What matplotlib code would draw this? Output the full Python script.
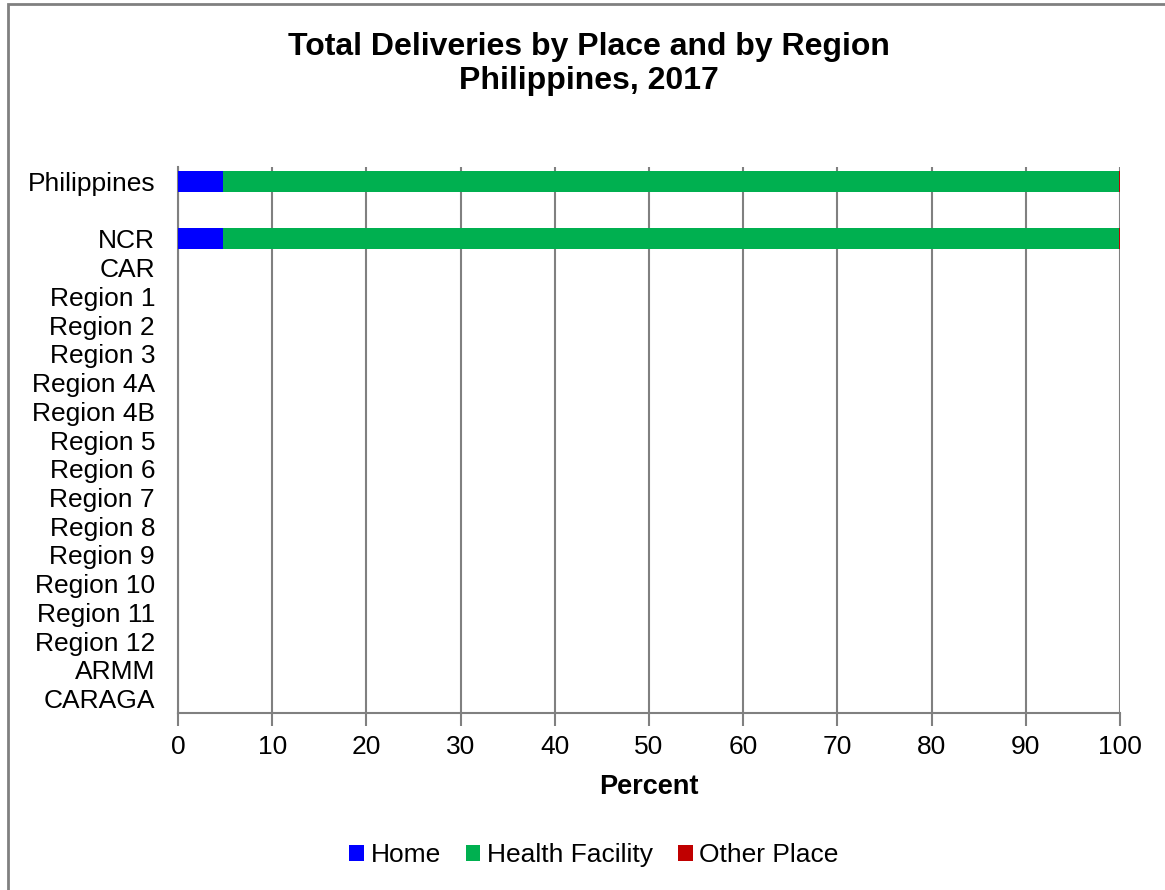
import matplotlib
matplotlib.use("Agg")
import matplotlib.pyplot as plt
from matplotlib.patches import Rectangle, Patch
import numpy as np

plt.rcParams['font.family'] = ['Liberation Sans', 'DejaVu Sans']

categories = ["Philippines", "", "NCR", "CAR", "Region 1", "Region 2", "Region 3",
              "Region 4A", "Region 4B", "Region 5", "Region 6", "Region 7", "Region 8",
              "Region 9", "Region 10", "Region 11", "Region 12", "ARMM", "CARAGA"]
home = [4.8, 0, 4.8] + [0] * 16
health = [95.1, 0, 95.1] + [0] * 16
other = [0.1, 0, 0.1] + [0] * 16
series_names = ["Home", "Health Facility", "Other Place"]
colors = ["#0000FF", "#00B050", "#C00000"]

fig = plt.figure(figsize=(11.65, 8.9), dpi=100)
ax = fig.add_axes([178/1165, 1-713/890, (1120-178)/1165, (713-167)/890])

y = np.arange(len(categories))
left = np.zeros(len(categories))
for vals, name, c in zip([home, health, other], series_names, colors):
    ax.barh(y, vals, left=left, height=0.72, color=c, label=name, zorder=3)
    left = left + np.array(vals)

ax.set_ylim(len(categories) - 0.5, -0.5)
ax.set_xlim(0, 100)
ax.set_xticks(np.arange(0, 101, 10))
ax.set_yticks(y)
ax.set_yticklabels(categories, fontsize=19)
ax.tick_params(axis='y', length=0, pad=16.5)
ax.tick_params(axis='x', labelsize=19, length=9, color='#808080', width=1.5, pad=7)
ax.grid(axis='x', color='#808080', linewidth=1.5, zorder=0)
for s in ['top', 'right']:
    ax.spines[s].set_visible(False)
ax.spines['left'].set_color('#808080')
ax.spines['left'].set_linewidth(1.5)
ax.spines['bottom'].set_color('#808080')
ax.spines['bottom'].set_linewidth(1.5)
ax.set_xlabel("Percent", fontsize=19.5, fontweight='bold', labelpad=11)

fig.text(589/1165, 1-64/890, "Total Deliveries by Place and by Region\nPhilippines, 2017",
         ha='center', va='center', fontsize=23, fontweight='bold', linespacing=1.15)

handles = [Patch(facecolor=c, label=n) for n, c in zip(series_names, colors)]
fig.legend(handles=handles, loc='center', bbox_to_anchor=(594/1165, 1-855/890), ncol=3,
           frameon=False, fontsize=19, handlelength=0.55, handleheight=0.55,
           handletextpad=0.25, columnspacing=0.95)

fig.patches.append(Rectangle((8/1165, -0.05), 1.2, 1 - 4/890 + 0.05, transform=fig.transFigure,
                             fill=False, edgecolor='#808080', linewidth=2, zorder=-1))

fig.savefig("out.png", dpi=100)
